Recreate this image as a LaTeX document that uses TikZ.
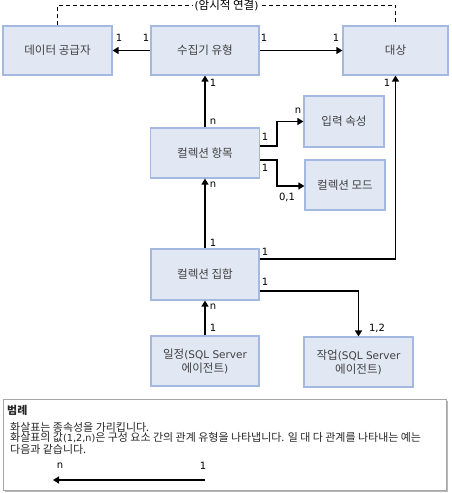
\documentclass[tikz,border=0pt]{standalone}
\usepackage{fontspec}
\setmainfont{DejaVu Sans}
\newfontfamily\krbox[Scale=1.1]{Noto Sans CJK KR}
\newfontfamily\krleg[Scale=1.13]{Noto Sans CJK KR}
\usetikzlibrary{arrows.meta,calc}
\definecolor{boxfill}{HTML}{E1E8F4}
\definecolor{boxline}{HTML}{A3B9E0}
\definecolor{boxtext}{HTML}{404040}
\newcommand{\KB}[1]{{\krbox #1}}
\newcommand{\KL}[1]{{\krleg #1}}
\tikzset{
  ent/.style={draw=boxline,fill=boxfill,line width=1.2pt,text=boxtext,font=\fontsize{10.5}{14}\selectfont,align=center,inner sep=0pt},
  conn/.style={line width=1.3pt,-{Triangle[length=6pt,width=7pt]}},
  lbl/.style={font=\fontsize{10}{11}\selectfont,inner sep=0pt},
  leg/.style={font=\fontsize{9.7}{11}\selectfont,inner sep=0pt,anchor=west,text=black!85}
}
\begin{document}
\begin{tikzpicture}[x=1pt,y=-1pt]
\useasboundingbox (0,0) rectangle (451,493);
% entities
\node[ent,minimum width=109pt,minimum height=49pt] (dp) at (57.5,50.5) {\KB{데이터 공급자}};
\node[ent,minimum width=108pt,minimum height=49pt] (ct) at (205,50.5) {\KB{수집기 유형}};
\node[ent,minimum width=105pt,minimum height=49pt] (tg) at (395.5,50.5) {\KB{대상}};
\node[ent,minimum width=80pt,minimum height=51pt] (ip) at (344,121.5) {\KB{입력 속성}};
\node[ent,minimum width=109pt,minimum height=50pt] (ci) at (205,153) {\KB{컬렉션 항목}};
\node[ent,minimum width=80pt,minimum height=50pt] (cm) at (345,185) {\KB{컬렉션 모드}};
\node[ent,minimum width=108pt,minimum height=51pt] (cs) at (205,274.5) {\KB{컬렉션 집합}};
\node[ent,minimum width=108pt,minimum height=50pt] (sc) at (205,361) {\KB{일정}(SQL Server\\\KB{에이전트})};
\node[ent,minimum width=109pt,minimum height=50pt] (jb) at (358.5,362) {\KB{작업}(SQL Server\\\KB{에이전트})};
% implicit link
\draw[dashed,line width=1pt,dash pattern=on 4pt off 3pt] (dp.north) -- ++(0,-20) coordinate (d1)
  -- (d1 -| tg.north) node[midway,fill=white,lbl,inner xsep=2pt,font=\fontsize{10.5}{11}\selectfont] (imp) {(\KB{암시적 연결})} -- (tg.north);
% connectors
\draw[conn] (ct.west) -- (dp.east);
\draw[conn] (ct.east) -- (tg.west);
\draw[conn] (ci.north) -- (ci.north |- ct.south);
\draw[conn] (cs.north) -- (cs.north |- ci.south);
\draw[conn] (sc.north) -- (sc.north |- cs.south);
\draw[conn] ([yshift=7pt]ci.east) -- ++(17,0) coordinate (c1) |- (ip.west);
\draw[conn] ([yshift=-7pt]ci.east) -- ++(17,0) coordinate (c2) |- ([yshift=-1pt]cm.west);
\draw[conn] ([yshift=15.5pt]cs.east) -| (tg.south);
\draw[conn] ([yshift=-16.5pt]cs.east) -| (jb.north);
% cardinality labels
\node[lbl] (a1) at (119,38) {1};
\node[lbl] (a2) at (146,38) {1};
\node[lbl] (a3) at (264,38) {1};
\node[lbl] (a4) at (336,38) {1};
\node[lbl] (a5) at (213,83) {1};
\node[lbl] (a6) at (387,83) {1};
\node[lbl] (a7) at (213,122) {n};
\node[lbl] (a8) at (265,137) {1};
\node[lbl] (a9) at (298,111) {n};
\node[lbl] (a10) at (265,168) {1};
\node[lbl] (a11) at (287,197) {0,1};
\node[lbl] (a12) at (213,185) {n};
\node[lbl] (a13) at (213,243) {1};
\node[lbl] (a14) at (265,252) {1};
\node[lbl] (a15) at (265,282) {1};
\node[lbl] (a16) at (377,328) {1,2};
\node[lbl] (a17) at (213,307) {n};
\node[lbl] (a18) at (213,328) {1};
% legend
\fill[gray!55] (5,401) rectangle (448,492);
\draw[draw=gray!70,fill=white,line width=0.8pt] (3,399) rectangle (446,490);
\node[leg,font=\fontsize{9.7}{11}\selectfont\bfseries] (lt) at (7,410) {\KL{범례}};
\node[leg] (lg1) at (10,427) {\KL{화살표는 종속성을 가리킵니다.}};
\node[leg] (lg2) at (10,438) {\KL{화살표의 값}(1,2,n)\KL{은 구성 요소 간의 관계 유형을 나타냅니다. 일 대 다 관계를 나타내는 예는}};
\node[leg] (lg3) at (10,449) {\KL{다음과 같습니다.}};
\coordinate (la) at (205,480);
\coordinate (lb) at (53,480);
\draw[conn] (la) -- (lb);
\node[lbl] (ln) at (60,466) {n};
\node[lbl] (l1) at (203,466) {1};
\end{tikzpicture}
\end{document}
